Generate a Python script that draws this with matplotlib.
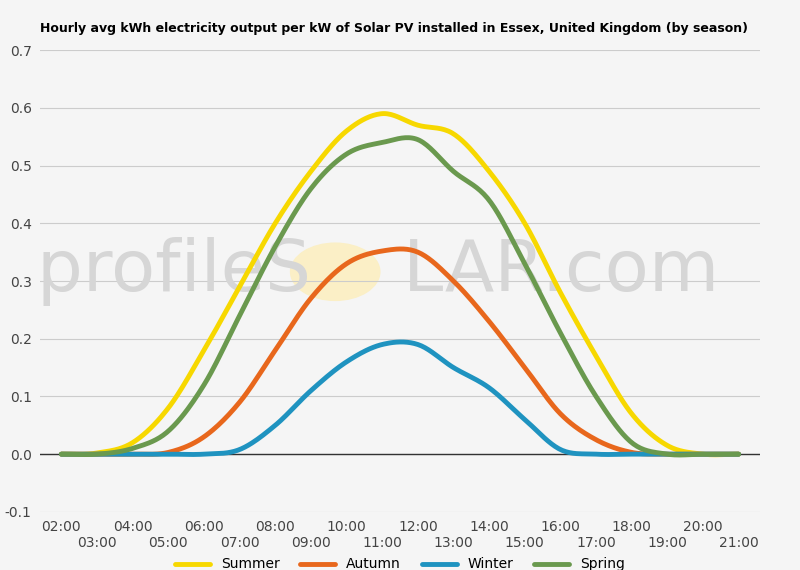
import numpy as np
import matplotlib
matplotlib.use('Agg')
import matplotlib.pyplot as plt

hours = ['%02d:00' % h for h in range(2, 22)]
summer = [0, 0.002, 0.02, 0.08, 0.18, 0.29, 0.40, 0.49, 0.56, 0.59, 0.57, 0.555, 0.49, 0.40, 0.28, 0.17, 0.07, 0.015, 0.0, 0]
autumn = [0, 0, 0, 0.003, 0.03, 0.09, 0.18, 0.27, 0.33, 0.352, 0.35, 0.30, 0.23, 0.15, 0.07, 0.025, 0.003, 0, 0, 0]
winter = [0, 0, 0, 0, 0, 0.008, 0.05, 0.11, 0.16, 0.19, 0.19, 0.15, 0.115, 0.06, 0.008, 0, 0, 0, 0, 0]
spring = [0, 0, 0.01, 0.04, 0.12, 0.24, 0.36, 0.46, 0.52, 0.54, 0.545, 0.49, 0.44, 0.33, 0.21, 0.10, 0.02, 0, 0, 0]

series = [('Summer', summer, '#f7d800'), ('Autumn', autumn, '#e8671c'),
          ('Winter', winter, '#1f93c0'), ('Spring', spring, '#6a994e')]


def smooth(y, n=20):
    # catmull-rom through the points for a curved line
    y = np.asarray(y, float)
    p = np.concatenate([[y[0]], y, [y[-1]]])
    xs, ys = [], []
    for i in range(len(y) - 1):
        p0, p1, p2, p3 = p[i], p[i + 1], p[i + 2], p[i + 3]
        t = np.linspace(0, 1, n, endpoint=False)
        v = 0.5 * (2 * p1 + (-p0 + p2) * t + (2 * p0 - 5 * p1 + 4 * p2 - p3) * t ** 2
                   + (-p0 + 3 * p1 - 3 * p2 + p3) * t ** 3)
        xs.append(i + t)
        ys.append(v)
    xs.append([len(y) - 1])
    ys.append([y[-1]])
    return np.concatenate(xs), np.concatenate(ys)


fig = plt.figure(figsize=(8, 5.7), dpi=100, facecolor='#f5f5f5')
ax = fig.add_axes([0.05, 0.102, 0.9, 0.81], facecolor='#f5f5f5')

# watermark, behind the lines
ax.add_patch(plt.Circle((0.41, 0.52), 0.062, transform=ax.transAxes, color='#fbefc6', zorder=0.5))
ax.text(0.47, 0.52, 'profileS    LAR.com', transform=ax.transAxes, fontsize=52, color='#d6d6d6',
        ha='center', va='center', zorder=0.6)

for name, vals, col in series:
    x, y = smooth(vals)
    ax.plot(x, y, color=col, lw=3.5, label=name, solid_capstyle='round', zorder=3)

ax.set_xlim(-0.6, 19.6)
ax.set_ylim(-0.1, 0.7)
ax.set_yticks(np.arange(-0.1, 0.71, 0.1))
ax.set_yticklabels(['%.1f' % v for v in np.arange(-0.1, 0.71, 0.1)], fontsize=10, color='#444')
ax.set_xticks(range(len(hours)))
ax.set_xticklabels([h if i % 2 == 0 else '\n' + h for i, h in enumerate(hours)], fontsize=10, color='#444')
ax.tick_params(length=0, pad=6)
ax.grid(axis='y', color='#cccccc', lw=0.8)
ax.set_axisbelow(True)
ax.axhline(0, color='#333', lw=1, zorder=1)
for s in ax.spines.values():
    s.set_visible(False)

fig.text(0.05, 0.95, 'Hourly avg kWh electricity output per kW of Solar PV installed in Essex, United Kingdom (by season)',
         fontsize=9, fontweight='bold', ha='left', va='center')
ax.legend(loc='upper center', bbox_to_anchor=(0.5, -0.08), ncol=4, frameon=False, fontsize=10,
          handlelength=2.5, handleheight=0.5, columnspacing=1.5, borderpad=0.1)
fig.savefig('out.png', facecolor=fig.get_facecolor())
